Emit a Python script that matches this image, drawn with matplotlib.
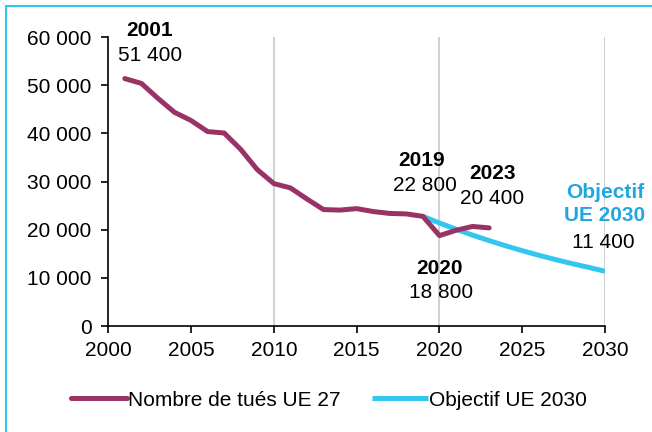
import matplotlib.pyplot as plt
from matplotlib.patches import Rectangle
from matplotlib.ticker import FuncFormatter

plt.rcParams['font.family'] = ['Liberation Sans', 'DejaVu Sans']

# Nombre de tués UE 27
annees = list(range(2001, 2024))
tues = [51400, 50400, 47300, 44400, 42700, 40400, 40100, 36700, 32500, 29600,
        28700, 26400, 24200, 24100, 24400, 23800, 23400, 23300, 22800, 18800,
        19900, 20700, 20400]

# Objectif UE 2030
annees_obj = list(range(2019, 2031))
objectif = [22800, 21420, 20120, 18900, 17760, 16680, 15670, 14720, 13830,
            12990, 12210, 11400]

violet = '#993366'
cyan = '#33C7F0'
fs = 15

fig = plt.figure(figsize=(6.52, 4.32), dpi=100)
ax = fig.add_axes([0.166, 0.245, 0.762, 0.669])

ax.plot(annees, tues, color=violet, lw=3.6, solid_capstyle='round',
        label='Nombre de tués UE 27', zorder=3)
ax.plot(annees_obj, objectif, color=cyan, lw=3.6, solid_capstyle='butt',
        label='Objectif UE 2030', zorder=2)

ax.set_xlim(2000, 2030)
ax.set_ylim(0, 60000)
ax.set_xticks(range(2000, 2031, 5))
ax.set_yticks(range(0, 60001, 10000))
ax.yaxis.set_major_formatter(FuncFormatter(lambda v, p: f'{int(v):,}'.replace(',', ' ')))
ax.tick_params(labelsize=fs, length=5, width=1.2, direction='out')
ax.tick_params(axis='y', pad=7)
ax.tick_params(axis='x', pad=6)
for yr in (2010, 2020, 2030):
    ax.axvline(yr, color='#d0d0d0', lw=1.4, zorder=1)
ax.spines['top'].set_visible(False)
ax.spines['right'].set_visible(False)
ax.spines['left'].set_linewidth(1.2)
ax.spines['bottom'].set_linewidth(1.2)

ax.text(2002.5, 61450, '2001', ha='center', va='center', fontsize=fs, fontweight='bold')
ax.text(2002.5, 56260, '51 400', ha='center', va='center', fontsize=fs)
ax.text(2018.95, 34460, '2019', ha='center', va='center', fontsize=fs, fontweight='bold')
ax.text(2019.1, 29270, '22 800', ha='center', va='center', fontsize=fs)
ax.text(2023.2, 31760, '2023', ha='center', va='center', fontsize=fs, fontweight='bold')
ax.text(2023.2, 26570, '20 400', ha='center', va='center', fontsize=fs)
ax.text(2020.0, 12040, '2020', ha='center', va='center', fontsize=fs, fontweight='bold')
ax.text(2020.1, 7060, '18 800', ha='center', va='center', fontsize=fs)
ax.text(2030.0, 27820, 'Objectif', ha='center', va='center', fontsize=fs,
        fontweight='bold', color='#1FA8E0')
ax.text(2030.0, 23040, 'UE 2030', ha='center', va='center', fontsize=fs,
        fontweight='bold', color='#1FA8E0')
ax.text(2029.9, 17440, '11 400', ha='center', va='center', fontsize=fs)
for t in ax.texts:
    t.set_clip_on(False)

fig.legend(loc='center', bbox_to_anchor=(0.505, 0.074), ncol=2, frameon=False,
           fontsize=fs, handlelength=2.7, handletextpad=0.05, columnspacing=1.5)

fig.patches.append(Rectangle((0.009, -0.05), 1.2, 1.036, transform=fig.transFigure,
                             fill=False, edgecolor='#33C7F0', lw=1.5))

fig.savefig('out.png', dpi=100)
